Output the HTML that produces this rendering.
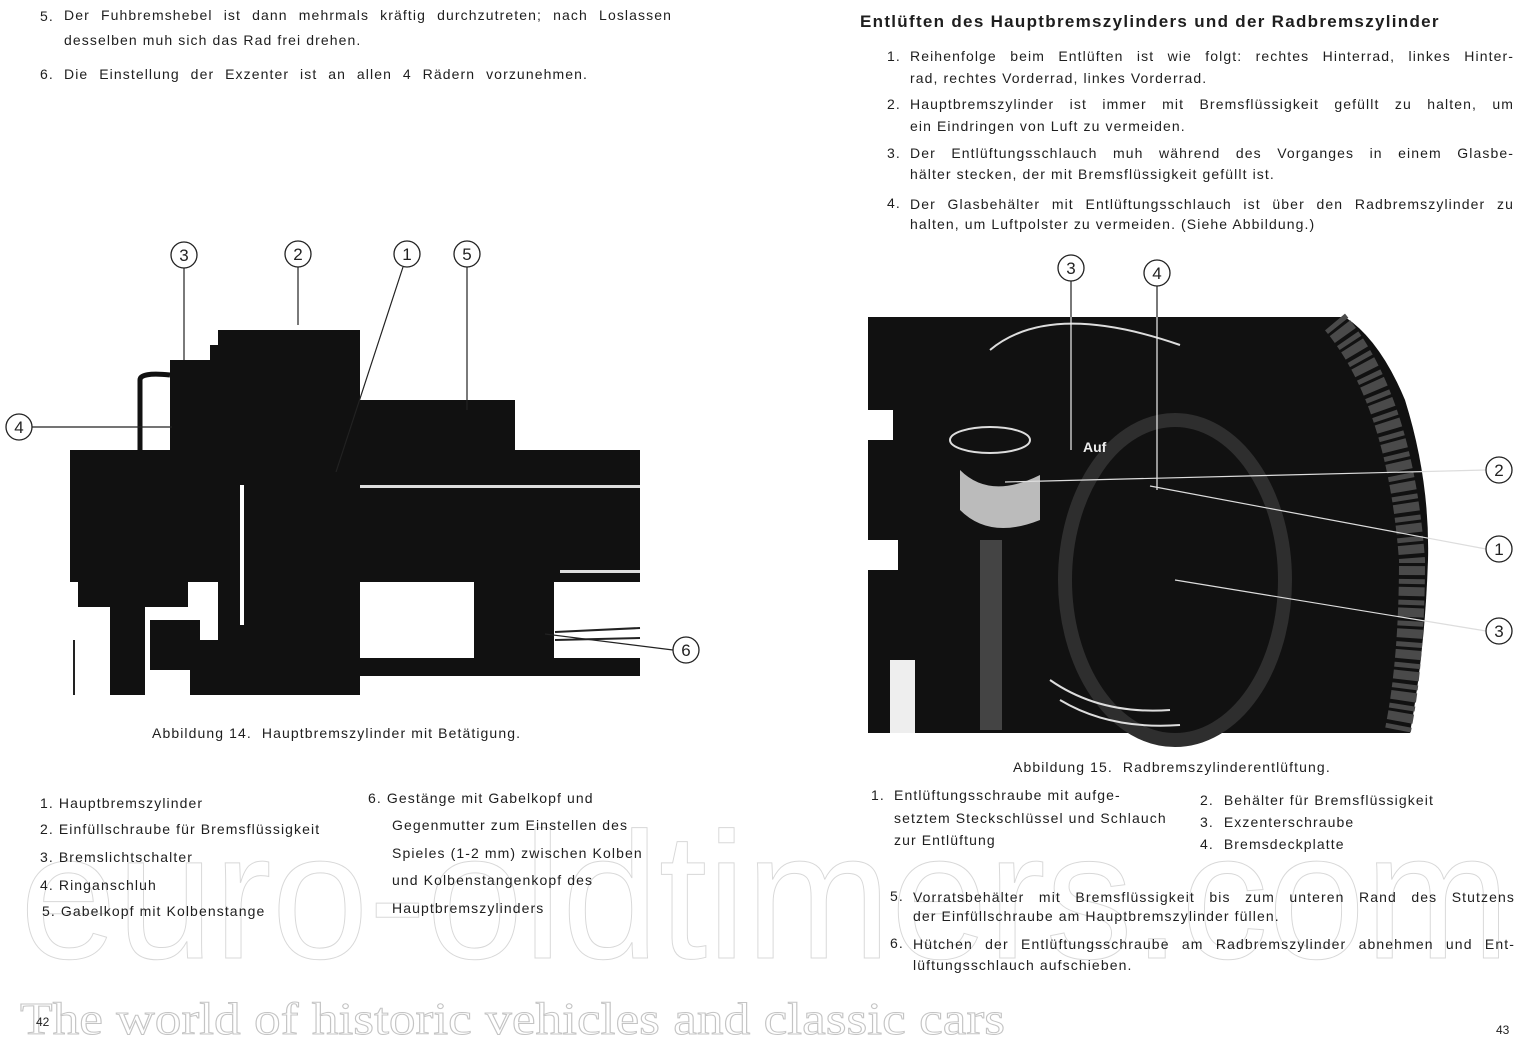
<!DOCTYPE html>
<html><head><meta charset="utf-8"><style>
body{margin:0;width:1530px;height:1046px;background:#fff;position:relative;overflow:hidden;font-family:"Liberation Sans",sans-serif;color:#1e1e1e}
.t{position:absolute;white-space:nowrap;font-size:14px;letter-spacing:1.1px;line-height:16px}
.j{position:absolute;white-space:nowrap;font-size:14px;line-height:16px;text-align:justify;text-align-last:justify;letter-spacing:1.1px}
svg{position:absolute;left:0;top:0}
</style></head><body>
<svg width="1530" height="1046">
<g fill="#111">
<rect x="70" y="450" width="570" height="132"/>
<rect x="218" y="330" width="142" height="365"/>
<rect x="210" y="345" width="30" height="110"/>
<rect x="360" y="400" width="155" height="52"/>
<rect x="170" y="360" width="45" height="95"/>
<rect x="200" y="405" width="25" height="50"/>
<rect x="474" y="582" width="80" height="85"/>
<rect x="345" y="658" width="295" height="18"/>
<rect x="78" y="582" width="110" height="25"/>
<rect x="110" y="605" width="35" height="90"/>
<rect x="150" y="620" width="50" height="50"/>
<rect x="190" y="640" width="160" height="55"/>
</g>
<path d="M140 452 V380 Q140 372 170 375" stroke="#111" stroke-width="5" fill="none"/>
<rect x="240" y="485" width="4" height="140" fill="#fff"/>
<rect x="360" y="485" width="280" height="3" fill="#ddd"/>
<rect x="560" y="570" width="80" height="3" fill="#ddd"/>
<line x1="555" y1="632" x2="640" y2="628" stroke="#222" stroke-width="2"/>
<line x1="555" y1="640" x2="640" y2="638" stroke="#222" stroke-width="2"/>
<rect x="73" y="640" width="2" height="55" fill="#222"/>
<path d="M868 317 H1345 Q1380 340 1405 400 Q1430 480 1428 560 Q1425 650 1410 733 H868 Z" fill="#111"/>
<path d="M1335 322 Q1400 400 1412 560 Q1412 660 1398 730" stroke="#4a4a4a" stroke-width="26" fill="none" stroke-dasharray="5 3 9 4"/>
<ellipse cx="1175" cy="580" rx="110" ry="160" fill="none" stroke="#2e2e2e" stroke-width="14"/>
<path d="M990 350 Q1050 300 1180 345" stroke="#ddd" stroke-width="2" fill="none"/>
<ellipse cx="990" cy="440" rx="40" ry="13" fill="none" stroke="#ddd" stroke-width="2"/>
<path d="M960 470 Q990 500 1040 475 L1040 520 Q990 540 960 510Z" fill="#bbb"/>
<rect x="980" y="540" width="22" height="190" fill="#444"/>
<path d="M1050 680 Q1100 715 1170 710 M1060 700 Q1110 730 1180 725" stroke="#ddd" stroke-width="2" fill="none"/>
<rect x="868" y="410" width="25" height="30" fill="#fff"/>
<rect x="868" y="540" width="30" height="30" fill="#fff"/>
<rect x="890" y="660" width="25" height="73" fill="#eee"/>
<text x="1083" y="452" fill="#eee" font-size="14" font-weight="bold" font-family="Liberation Sans">Auf</text>
<g stroke="#222" stroke-width="1.2" fill="none">
<line x1="184" y1="268" x2="184" y2="360"/>
<line x1="298" y1="267" x2="298" y2="325"/>
<line x1="403" y1="267" x2="336" y2="472"/>
<line x1="467" y1="267" x2="467" y2="410"/>
<line x1="32" y1="427" x2="172" y2="427"/>
<line x1="673" y1="650" x2="545" y2="634"/>
<line x1="1071" y1="281" x2="1071" y2="450" stroke="#eee"/>
<line x1="1157" y1="286" x2="1157" y2="490" stroke="#eee"/>
<line x1="1486" y1="470" x2="1005" y2="482" stroke="#ddd"/>
<line x1="1486" y1="549" x2="1150" y2="486" stroke="#ddd"/>
<line x1="1486" y1="631" x2="1175" y2="580" stroke="#ddd"/>
<line x1="1071" y1="281" x2="1071" y2="317"/>
<line x1="1157" y1="286" x2="1157" y2="317"/>
</g>
<g fill="#fff" stroke="#222" stroke-width="1.3">
<circle cx="184" cy="255" r="13"/><circle cx="298" cy="254" r="13"/><circle cx="407" cy="254" r="13"/><circle cx="467" cy="254" r="13"/><circle cx="19" cy="427" r="13"/><circle cx="686" cy="650" r="13"/>
<circle cx="1071" cy="268" r="13"/><circle cx="1157" cy="273" r="13"/><circle cx="1499" cy="470" r="13"/><circle cx="1499" cy="549" r="13"/><circle cx="1499" cy="631" r="13"/>
</g>
<g font-family="Liberation Sans" font-size="17" fill="#222" text-anchor="middle">
<text x="184" y="261">3</text><text x="298" y="260">2</text><text x="407" y="260">1</text><text x="467" y="260">5</text><text x="19" y="433">4</text><text x="686" y="656">6</text>
<text x="1071" y="274">3</text><text x="1157" y="279">4</text><text x="1499" y="476">2</text><text x="1499" y="555">1</text><text x="1499" y="637">3</text>
</g>
<text x="20" y="958" font-family="Liberation Sans" font-size="180" textLength="1490" lengthAdjust="spacingAndGlyphs" fill="none" stroke="#d8d8d8" stroke-width="1">euro-oldtimers.com</text>
<text x="20" y="1034" font-family="Liberation Serif" font-size="46" textLength="985" lengthAdjust="spacingAndGlyphs" fill="none" stroke="#c4c4c4" stroke-width="1">The world of historic vehicles and classic cars</text>
</svg>

<div class="t" style="left:40px;top:8px">5.</div>
<div class="j" style="left:64px;top:7px;width:608px">Der Fuhbremshebel ist dann mehrmals kräftig durchzutreten; nach Loslassen</div>
<div class="t" style="left:64px;top:32px">desselben muh sich das Rad frei drehen.</div>
<div class="t" style="left:40px;top:66px">6.</div>
<div class="j" style="left:64px;top:66px;width:524px">Die Einstellung der Exzenter ist an allen 4 Rädern vorzunehmen.</div>

<div class="t" style="left:152px;top:725px">Abbildung 14.&nbsp; Hauptbremszylinder mit Betätigung.</div>
<div class="t" style="left:40px;top:795px">1. Hauptbremszylinder</div>
<div class="t" style="left:40px;top:821px">2. Einfüllschraube für Bremsflüssigkeit</div>
<div class="t" style="left:40px;top:849px">3. Bremslichtschalter</div>
<div class="t" style="left:40px;top:877px">4. Ringanschluh</div>
<div class="t" style="left:42px;top:903px">5. Gabelkopf mit Kolbenstange</div>
<div class="t" style="left:368px;top:790px">6. Gestänge mit Gabelkopf und</div>
<div class="t" style="left:392px;top:817px">Gegenmutter zum Einstellen des</div>
<div class="t" style="left:392px;top:845px">Spieles (1-2 mm) zwischen Kolben</div>
<div class="t" style="left:392px;top:872px">und Kolbenstangenkopf des</div>
<div class="t" style="left:392px;top:900px">Hauptbremszylinders</div>
<div class="t" style="left:36px;top:1014px;font-size:12px;letter-spacing:0">42</div>

<div class="t" style="left:860px;top:14px;font-size:17px;font-weight:bold;letter-spacing:1.3px">Entlüften des Hauptbremszylinders und der Radbremszylinder</div>
<div class="t" style="left:887px;top:48px">1.</div>
<div class="j" style="left:910px;top:48px;width:604px">Reihenfolge beim Entlüften ist wie folgt: rechtes Hinterrad, linkes Hinter-</div>
<div class="t" style="left:910px;top:70px">rad, rechtes Vorderrad, linkes Vorderrad.</div>
<div class="t" style="left:887px;top:96px">2.</div>
<div class="j" style="left:910px;top:96px;width:604px">Hauptbremszylinder ist immer mit Bremsflüssigkeit gefüllt zu halten, um</div>
<div class="t" style="left:910px;top:118px">ein Eindringen von Luft zu vermeiden.</div>
<div class="t" style="left:887px;top:145px">3.</div>
<div class="j" style="left:910px;top:145px;width:604px">Der Entlüftungsschlauch muh während des Vorganges in einem Glasbe-</div>
<div class="t" style="left:910px;top:166px">hälter stecken, der mit Bremsflüssigkeit gefüllt ist.</div>
<div class="t" style="left:887px;top:195px">4.</div>
<div class="j" style="left:910px;top:196px;width:604px">Der Glasbehälter mit Entlüftungsschlauch ist über den Radbremszylinder zu</div>
<div class="t" style="left:910px;top:216px">halten, um Luftpolster zu vermeiden. (Siehe Abbildung.)</div>

<div class="t" style="left:1013px;top:759px">Abbildung 15.&nbsp; Radbremszylinderentlüftung.</div>
<div class="t" style="left:871px;top:787px">1.</div>
<div class="t" style="left:894px;top:787px">Entlüftungsschraube mit aufge-</div>
<div class="t" style="left:894px;top:810px">setztem Steckschlüssel und Schlauch</div>
<div class="t" style="left:894px;top:832px">zur Entlüftung</div>
<div class="t" style="left:1200px;top:792px">2.&nbsp; Behälter für Bremsflüssigkeit</div>
<div class="t" style="left:1200px;top:814px">3.&nbsp; Exzenterschraube</div>
<div class="t" style="left:1200px;top:836px">4.&nbsp; Bremsdeckplatte</div>
<div class="t" style="left:890px;top:888px">5.</div>
<div class="j" style="left:913px;top:889px;width:602px">Vorratsbehälter mit Bremsflüssigkeit bis zum unteren Rand des Stutzens</div>
<div class="t" style="left:913px;top:908px">der Einfüllschraube am Hauptbremszylinder füllen.</div>
<div class="t" style="left:890px;top:935px">6.</div>
<div class="j" style="left:913px;top:936px;width:602px">Hütchen der Entlüftungsschraube am Radbremszylinder abnehmen und Ent-</div>
<div class="t" style="left:913px;top:957px">lüftungsschlauch aufschieben.</div>
<div class="t" style="left:1496px;top:1022px;font-size:12px;letter-spacing:0">43</div>
</body></html>
